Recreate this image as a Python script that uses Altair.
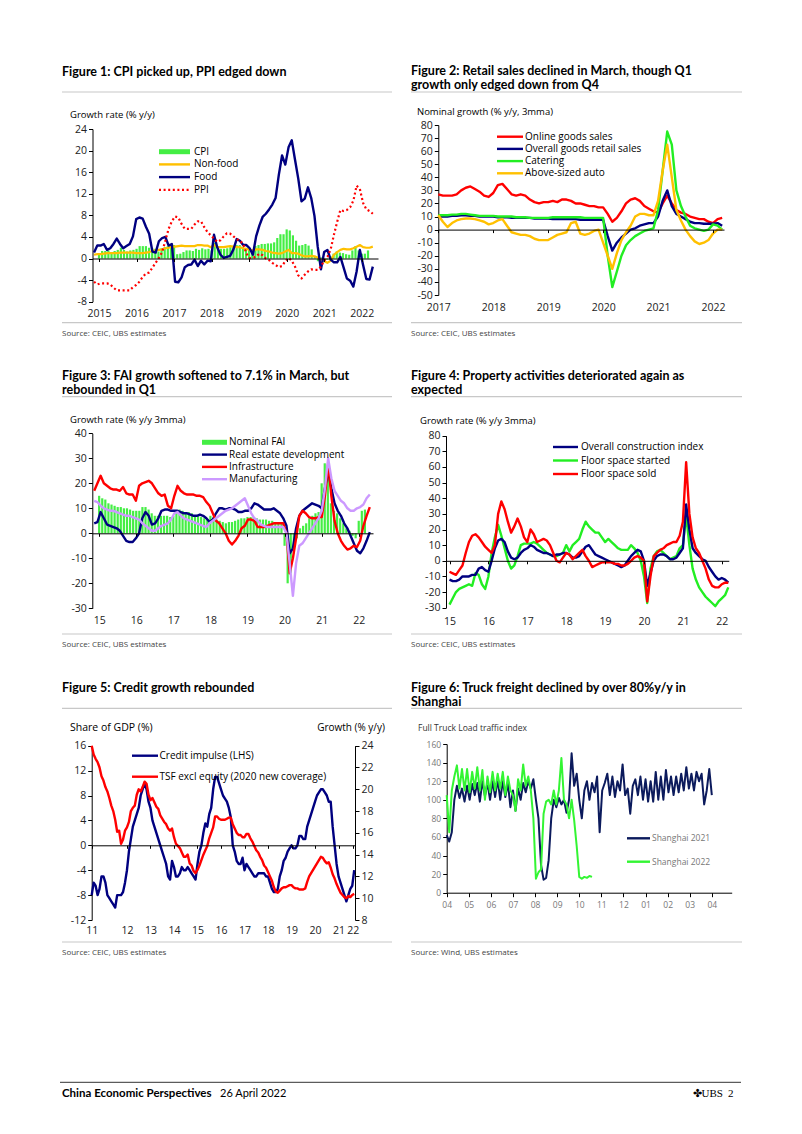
import altair as alt
import pandas as pd

W, H = 802, 1134
F = "Open Sans"
TF = "Lato"

NAVY = "#000080"
RED = "#FF0000"
LIME = "#22EE22"
BARG = "#44EE44"
ORANGE = "#FFC000"
LILAC = "#CC99FF"

# ---------------- data ----------------
# Figure 1 (monthly, Jan 2015 - Mar 2022)
f1_cpi = [0.8,1.4,1.4,1.5,1.2,1.4,1.6,2.0,1.6,1.3,1.5,1.6,
          1.8,2.3,2.3,2.3,2.0,1.9,1.8,1.3,1.9,2.1,2.3,2.1,
          2.5,0.8,0.9,1.2,1.5,1.5,1.4,1.8,1.6,1.9,1.7,1.8,
          1.5,2.9,2.1,1.8,1.8,1.9,2.1,2.3,2.5,2.5,2.2,1.9,
          1.7,1.5,2.3,2.5,2.7,2.7,2.8,2.8,3.0,3.8,4.5,4.5,
          5.4,5.2,4.3,3.3,2.4,2.5,2.7,2.4,1.7,0.5,-0.5,0.2,
          -0.3,-0.2,0.4,0.9,1.3,1.1,1.0,0.8,0.7,1.5,2.3,1.5,
          0.9,0.9,1.5]
f1_nonfood = [0.7,0.8,0.8,0.9,1.0,1.0,1.0,1.0,1.1,1.1,1.1,1.1,
              1.1,1.0,1.0,1.0,1.1,1.2,1.4,1.5,1.6,1.7,1.9,2.0,
              2.2,2.2,2.3,2.4,2.3,2.3,2.3,2.3,2.5,2.5,2.4,2.4,
              2.1,2.5,2.1,2.1,2.1,2.2,2.3,2.2,2.1,2.1,1.9,1.8,
              1.6,1.5,1.7,1.7,1.6,1.4,1.3,1.1,1.0,0.9,1.0,1.3,
              1.6,1.0,1.0,0.9,0.6,0.4,0.4,0.5,0.4,0.2,-0.3,-0.5,
              -0.8,-0.4,0.7,1.2,1.6,1.8,1.7,1.7,1.9,2.2,2.5,2.1,
              2.0,2.0,2.2]
f1_food = [1.1,2.4,2.4,2.7,1.6,1.9,2.7,3.7,2.7,1.9,2.3,2.7,
           4.1,7.3,7.6,7.4,5.9,4.6,1.3,1.1,3.2,3.8,4.0,2.4,
           2.7,-4.3,-4.4,-3.5,-1.6,-1.2,-1.1,-0.2,-1.4,-0.4,-1.1,-0.4,
           -0.5,4.4,2.1,0.7,0.1,0.3,0.5,1.7,3.6,3.3,2.5,2.5,
           1.9,0.7,4.1,6.1,7.7,8.3,9.1,10.0,11.2,15.5,19.1,17.4,
           20.6,21.9,18.3,14.8,10.6,11.1,13.2,11.2,7.9,2.2,-2.0,1.2,
           1.6,-0.2,-0.7,-0.7,0.3,-1.7,-3.7,-4.1,-5.2,-2.4,1.6,-1.2,
           -3.8,-3.9,-1.5]
f1_ppi = [-4.3,-4.8,-4.6,-4.6,-4.6,-4.8,-5.4,-5.9,-5.9,-5.9,-5.9,-5.9,
          -5.3,-4.9,-4.3,-3.4,-2.8,-2.6,-1.7,-0.8,0.1,1.2,3.3,5.5,
          6.9,7.8,7.6,6.4,5.5,5.5,5.5,6.3,6.9,6.9,5.8,4.9,
          4.3,3.7,3.1,3.4,4.1,4.7,4.6,4.1,3.6,3.3,2.7,0.9,
          0.1,0.1,0.4,0.9,0.6,0.0,-0.3,-0.8,-1.2,-1.6,-1.4,-0.5,
          0.1,-0.4,-1.5,-3.1,-3.7,-3.0,-2.4,-2.0,-2.1,-2.1,-1.5,-0.4,
          0.3,1.7,4.4,6.8,9.0,8.8,9.0,9.5,10.7,13.5,12.9,10.3,
          9.1,8.8,8.3]
f1_labels = ["CPI", "Non-food", "Food", "PPI"]
f1_ticks = [2015, 2016, 2017, 2018, 2019, 2020, 2021, 2022]

# Figure 2 (monthly, Jan 2017 - Mar 2022)
f2_online = [27,26,26,26,27,30,32,33,31,29,26,25,
             28,34,35,31,27,26,27,26,23,21,20,21,
             21,22,21,23,23,22,20,20,19,18,18,17,
             17,12,6,9,14,20,23,24,22,18,16,14,
             13,20,26,20,15,13,12,10,9,8,8,6,
             5,8,9]
f2_overall = [10,10,10,10.5,10.5,11,11,10.5,10.5,10,10,10,
              10,9.5,9.5,9.5,9,9,9,9,9,8.5,8.5,8.5,
              8.5,8,8,8,8,8,8,7.5,7.5,7.5,7.5,7.5,
              7.5,-5,-16,-10,-6,-3,0,1,3,4,5,5,
              10,22,30,18,12,10,8,6,5,5,4.5,4.5,
              4.5,5,3]
f2_catering = [11,11,11,11.5,11.5,12,12,11.5,11,10.5,10.5,10.5,
               10.5,10,10,10,10,9.5,9.5,9.5,9,9,9,9,
               9,9.5,9.5,9.5,9.5,9.5,9.5,9.5,9,9,9,9,
               9,-20,-44,-32,-20,-12,-8,-5,-3,-1,0,1,
               15,45,75,65,30,18,10,3,1,0,-1,0,
               4,3,0]
f2_auto = [11,6,2,5,7,8,8.5,8.5,8,7,6,4,
           5,7,8,3,-2,-3,-4,-4,-5,-7,-8,-8,
           -8,-6,-4,-3,-2,5,6,-3,-4,-3,-1,0,
           -10,-20,-30,-18,-8,-2,3,10,12,12,11,11,
           22,45,65,40,15,7,0,-5,-9,-11,-10,-8,
           -3,0,0]
f2_labels = ["Online goods sales", "Overall goods retail sales", "Catering", "Above-sized auto"]
f2_ticks = [2017, 2018, 2019, 2020, 2021, 2022]

# Figure 3 (monthly, Jan 2015 - Mar 2022)
f3_fai = [15,14,13.5,12,11.5,11,10.5,10.5,10,10,9.5,9,
          9,9,10.5,10.5,9.5,8,7,7,7,7,7,6.5,
          7,8.5,9.5,9,8.5,8.5,8,7,7,6.5,6,5.5,
          7,6,5.5,5,4.5,4,4.5,4.5,5,5.5,6,6,
          6.5,6.5,6.5,6,5.5,5.5,5.5,5,5,4.5,4.5,4.5,
          -5,-20,-16,-8,-2,2,3,4,6,7,8,8.5,
          20,28,25,12,9,8,6,4,2,1,-1,-2,
          5,9,9.5]
f3_realestate = [4,4.5,8.5,6,3.5,3,2.5,2,1,-1,-3,-3.5,
                 -3.5,-2,0,6,8.5,7,3.5,4,6,9,9.5,9.5,
                 9,9,9,8.5,8,8,7.5,7,7,7.5,7,6,
                 4.5,5.5,8,10,10,9.5,10,10,9.5,8.5,8.5,9,
                 9,10,12,11.5,10.5,9.5,9.5,9.5,10,9,8,6,
                 3,-8,-6,2,7,9,10,11,12,11.5,11,10,
                 18,25,18,12,9,7,4,2,-1,-4,-7,-8,
                 -6,-3,0.5]
f3_infra = [17,20,23,20,19,18,17.5,17.5,17,18.5,16,15.5,
            15.5,13,19,20,20.5,21,20,18,16,15,15.5,11,
            10,15,19,17,16,15.5,15.5,15.5,15,15,14.5,12.5,
            11,8,5,4,2,0,-3,-4.5,-3,-1,2,3,
            5.5,5.5,5,2.5,2.5,2.5,3,3.5,4,4,4,4,
            0,-16,-10,-2,7,9,8,6.5,6,6,6.5,6.5,
            15,28,15,5,0,-3,-5,-6.5,-6,-5,-5.5,-3,
            3,7,10.5]
f3_manuf = [13,12.5,11,10,9.5,9,9,8.5,8,7.5,7,7,
            6.5,6,5.5,4,3,2,1,1,2,3,3.5,4,
            5.5,8,8.5,7,6,5.5,5,4.5,4,3.5,3,2.5,
            4,5,6,7,8,9,9.5,10,11,12,13,14,
            11,8,6,5,3.5,3,2.5,2.5,2.5,2.5,2.5,2.5,
            0,-12,-25,-12,-5,-4,-2,0,2,4,6,9,
            18,30,22,17,15,13,12,10,9,9,10,10.5,
            11.5,14,15.5]
f3_labels = ["Nominal FAI", "Real estate development", "Infrastructure", "Manufacturing"]
f3_ticks = [2015, 2016, 2017, 2018, 2019, 2020, 2021, 2022]
f3_ticklabels = ["15", "16", "17", "18", "19", "20", "21", "22"]

# Figure 4 (monthly, Jan 2015 - Mar 2022)
f4_construction = [-12,-13,-13,-12,-10,-10,-10,-9,-9,-5,-4,-6,
                   -7,0,8,13,14,12,6,2,1,2,5,7,
                   8,10,9,7,6,5,5,4,3,4,4,5,
                   5,4,2,2,3,6,9,10,7,4,3,2,
                   1,0,-1,-2,-3,-4,-3,0,3,5,7,6,
                   0,-16,-8,0,3,4,4,3,1,1,2,5,
                   8,36,20,8,5,3,1,0,-4,-7,-10,-12,
                   -11,-12,-14]
f4_started = [-28,-24,-20,-18,-17,-16,-15,-16,-8,-9,-15,-18,
              -10,5,15,23,16,8,0,-5,-3,3,10,11,
              11,11,12,11,9,7,5,4,3,3,4,5,
              10,6,10,12,14,20,25,22,20,18,18,15,
              12,14,12,10,8,7,7,7,10,8,5,0,
              -10,-27,-5,3,6,7,5,3,1,2,3,8,
              10,29,10,-5,-12,-17,-20,-23,-25,-27,-29,-26,
              -24,-22,-17]
f4_sold = [-7,-8,-9,-6,-3,5,12,16,17,15,12,9,
           7,5,10,30,38,33,25,18,22,27,22,15,
           12,20,17,12,13,14,13,10,5,0,-1,2,
           5,4,1,3,5,7,3,0,-4,-3,-2,-1,
           -1,-1,-1,-2,-2,-3,-3,-2,0,2,3,2,
           0,-26,-10,3,5,7,8,10,11,12,12,16,
           25,63,30,15,8,5,0,-5,-12,-16,-17,-17,
           -15,-14,-14]
f4_labels = ["Overall construction index", "Floor space started", "Floor space sold"]

# Figure 5 (monthly, Jan 2011 - Mar 2022)
f5_impulse = [-8,-6,-6.5,-8,-7,-5,-5,-6,-8,-8.5,-9,-9.5,
              -10,-8,-8,-8,-7.5,-6,-4,-1,1,3,4,5,
              6,8,9,10,9,7,6,4,3,2,1,0,
              -1,-2,-3,-5,-5.5,-2.5,-3.5,-5,-5,-4.5,-3.5,-4,
              -4,-3.5,-4,-4.5,-5,-5.5,-3,-1,0,2,3.5,3,
              5,6,9,11,11,10,9,8,7.5,7,6,4.5,
              0,-1,-2.5,-3,-3,-2,-4,-3,-3.5,-4,-4.5,-5,
              -5,-4.5,-4.5,-4.5,-4.5,-5,-5,-6,-7,-7.5,-7.5,-7,
              -5,-4,-2.5,-2,-1,-0.5,0,-0.5,-0.5,0,1.5,1.5,
              1,1,3,4,5,6,7,8,8.5,9,9,8.5,
              8,7,7,3,0,-3,-5,-6,-7,-8,-9,-8,
              -7,-6.5,-4]
f5_tsf = [24,23.2,22.8,22.5,22,21.2,20.8,20.2,19.8,19.2,18.5,18,
          17.2,16.1,16.2,15,15.4,16.2,16.5,17,18,18.3,18.5,19.5,
          20,19.8,20.2,20.7,20.5,19.5,19,19.2,18.8,18.4,18.2,17.6,
          17.3,17,16.8,16.4,16.2,16.4,15.6,15,14.8,14.6,14.2,13.8,
          13.8,14,13.2,13,12.5,12.3,12.6,13,13.5,14,14.4,14.8,
          15.5,16,16.5,17.5,17.5,17.3,17.2,17.2,17.2,17.3,17.4,17.4,
          16.8,16.4,16,15.8,15.8,15.6,15.6,15.9,15.9,15.5,15.2,14.8,
          14.4,14.2,13.8,13.5,13,12.8,12.4,12,11.6,11,10.6,10.5,
          10.7,10.9,11,11,11.1,11.2,11.2,11,10.9,10.9,10.8,10.8,
          10.8,10.9,11.5,12,12.3,12.6,12.9,13.2,13.5,13.8,13.7,13.4,
          13.2,13.3,12.8,12.2,11.8,11.3,10.9,10.5,10.3,10.1,10.0,10.2,
          10.1,10.3,10.4]
f5_labels = ["Credit impulse (LHS)", "TSF excl equity (2020 new coverage)"]
f5_ticks = [2011, 2012.5, 2013.5, 2014.5, 2015.5, 2016.5, 2017.5, 2018.5, 2019.5, 2020.5, 2021.5, 2022.1]
f5_ticklabels = ["11", "12", "13", "14", "15", "16", "17", "18", "19", "20", "21", "22"]

# Figure 6 (twice-weekly readings, month index from April)
f6_2021 = [62,55,65,100,115,102,112,98,115,100,117,105,118,98,120,104,118,100,120,103,
           122,100,120,103,118,92,110,88,112,100,118,108,120,112,122,100,80,30,14,16,
           35,80,100,92,102,95,100,86,100,150,115,128,100,80,110,120,100,118,108,125,
           65,110,118,128,105,125,103,120,110,138,105,112,85,115,122,105,125,100,122,98,
           120,98,130,100,125,100,132,108,125,105,125,108,128,110,135,112,128,110,130,120,
           128,95,110,133,105]
f6_2022 = [105,65,110,125,137,112,133,110,133,108,130,112,135,110,132,100,125,108,130,110,
           128,112,130,105,125,110,105,88,122,110,138,115,125,110,80,15,22,25,85,98,
           100,95,110,95,110,145,100,95,80,100,78,50,17,15,17,16,18,17]
f6_labels = ["Shanghai 2021", "Shanghai 2022"]
f6_ticklabels = ["04", "05", "06", "07", "08", "09", "10", "11", "12", "01", "02", "03", "04"]
STEP6 = 12 / 104


# ---------------- helpers ----------------
def one():
    return alt.Data(values=[{"k": 0}])


def sc(dom, rng):
    return alt.Scale(domain=list(dom), range=list(rng), nice=False, zero=False)


def lookup_expr(ticks, labels):
    return ("[" + ",".join("'" + l + "'" for l in labels) + "][indexof(["
            + ",".join(str(t) for t in ticks) + "], datum.value)]")


def xaxis(yzero, ticks, labels, ylab, size=10.5, color="#222", tick=3):
    return alt.Axis(orient="bottom", offset=yzero - H, values=ticks,
                    labelExpr=lookup_expr(ticks, labels), title=None, grid=False,
                    tickSize=tick, labelPadding=ylab - yzero - tick, labelFontSize=size,
                    labelColor=color, labelFont=F, labelBaseline="middle",
                    domainColor="#000", tickColor="#000", domainWidth=1, tickWidth=1,
                    labelOverlap=False, labelFlush=False, zindex=1)


def yaxis(x0, ticks, orient="left", size=10.5, color="#222"):
    off = -x0 if orient == "left" else x0 - W
    return alt.Axis(orient=orient, offset=off, values=ticks, labelExpr="toString(datum.value)",
                    title=None, grid=False, tickSize=4, labelPadding=2, labelFontSize=size,
                    labelColor=color, labelFont=F, domainColor="#000", tickColor="#000",
                    domainWidth=1, tickWidth=1, labelOverlap=False, labelFlush=False)


def series(t, v, color, xs, ys, sw=2.0, dash=None, xax=None, yax=None, bar=None):
    df = pd.DataFrame({"t": t, "v": v, "z": [0.0] * len(v)})
    xenc = alt.X("t:Q", scale=xs, axis=xax)
    yenc = alt.Y("v:Q", scale=ys, axis=yax)
    if bar:
        return alt.Chart(df).mark_bar(size=bar, color=color).encode(x=xenc, y=yenc, y2="z:Q")
    kw = dict(color=color, strokeWidth=sw, strokeJoin="round")
    if dash:
        kw["strokeDash"] = dash
    return alt.Chart(df).mark_line(**kw).encode(x=xenc, y=yenc)


def txt(s, x, y, size=10, color="#000", weight="normal", align="left", font=F):
    return alt.Chart(one()).mark_text(text=s, fontSize=size, color=color, fontWeight=weight,
                                      align=align, baseline="middle", font=font).encode(
        x=alt.value(x), y=alt.value(y))


def hrule(x1, x2, y, color="#000", sw=1.0, dash=None):
    kw = dict(color=color, strokeWidth=sw)
    if dash:
        kw["strokeDash"] = dash
    return alt.Chart(one()).mark_rule(**kw).encode(x=alt.value(x1), x2=alt.value(x2), y=alt.value(y))


def months(start, n):
    return [start + i / 12 for i in range(n)]


L = []

# ---------------- page furniture ----------------
SEP = "#C8C8C8"
SRC = "#444444"
TS = 12.5
L += [
    txt("Figure 1: CPI picked up, PPI edged down", 62, 71.5, TS, weight="bold", font=TF),
    txt("Figure 2: Retail sales declined in March, though Q1", 411, 71, TS, weight="bold", font=TF),
    txt("growth only edged down from Q4", 411, 85.3, TS, weight="bold", font=TF),
    hrule(62, 392, 92, SEP, 1.2), hrule(411, 742, 92, SEP, 1.2),
    hrule(62, 392, 322.7, SEP, 1.2), hrule(411, 742, 322.7, SEP, 1.2),
    txt("Source: CEIC, UBS estimates", 62, 334, 8, SRC),
    txt("Source: CEIC, UBS estimates", 411, 334, 8, SRC),

    txt("Figure 3: FAI growth softened to 7.1% in March, but", 62, 375.5, TS, weight="bold", font=TF),
    txt("rebounded in Q1", 62, 389.8, TS, weight="bold", font=TF),
    txt("Figure 4: Property activities deteriorated again as", 411, 375.5, TS, weight="bold", font=TF),
    txt("expected", 411, 389.8, TS, weight="bold", font=TF),
    hrule(62, 392, 396.6, SEP, 1.2), hrule(411, 742, 396.6, SEP, 1.2),
    hrule(62, 392, 634, SEP, 1.2), hrule(411, 742, 634, SEP, 1.2),
    txt("Source: CEIC, UBS estimates", 62, 645, 8, SRC),
    txt("Source: CEIC, UBS estimates", 411, 645, 8, SRC),

    txt("Figure 5: Credit growth rebounded", 62, 687.7, TS, weight="bold", font=TF),
    txt("Figure 6: Truck freight declined by over 80%y/y in", 411, 687.5, TS, weight="bold", font=TF),
    txt("Shanghai", 411, 701.8, TS, weight="bold", font=TF),
    hrule(62, 392, 708.3, SEP, 1.2), hrule(411, 742, 708.3, SEP, 1.2),
    hrule(62, 392, 942, SEP, 1.2), hrule(411, 742, 942, SEP, 1.2),
    txt("Source: CEIC, UBS estimates", 62, 953, 8, SRC),
    txt("Source: Wind, UBS estimates", 411, 953, 8, SRC),

    hrule(60, 741, 1082.3, "#333333", 1.0),
    txt("China Economic Perspectives", 62, 1093.5, 11.5, weight="bold", font=TF),
    txt("26 April 2022", 220, 1093.5, 11, font=TF),
    txt("\u2724UBS", 723, 1093.5, 11, align="right", font="Liberation Serif"),
    txt("2", 733.5, 1093.5, 11, align="right", font="Liberation Serif"),
]

# ---------------- Figure 1 ----------------
t1 = months(2015, len(f1_cpi))
x1 = sc([2014.96, 2022.3], [92.5, 378])
y1 = sc([-8, 24], [301.7, 129])
L += [
    series(t1, f1_cpi, BARG, x1, y1, bar=2.2,
           xax=xaxis(258.5, f1_ticks, [str(v) for v in f1_ticks], 313),
           yax=yaxis(92.5, list(range(-8, 25, 4)))),
    series(t1, f1_nonfood, ORANGE, x1, y1, 2.2),
    series(t1, f1_food, NAVY, x1, y1, 2.4),
    series(t1, f1_ppi, RED, x1, y1, 2.2, dash=[2, 2.6]),
    txt("Growth rate (% y/y)", 70, 115, 9.5),
]
for i, (lab, col) in enumerate(zip(f1_labels, [BARG, ORANGE, NAVY, RED])):
    yy = 151.7 + i * 12.7
    if i == 0:
        L.append(hrule(159, 190, yy, col, 5))
    elif i == 3:
        L.append(hrule(159, 190, yy, col, 2.2, dash=[2, 2.6]))
    else:
        L.append(hrule(159, 190, yy, col, 2.4))
    L.append(txt(lab, 194, yy, 10))

# ---------------- Figure 2 ----------------
t2 = months(2017, len(f2_online))
x2 = sc([2017.0, 2022.2], [438.3, 724])
y2 = sc([-50, 80], [295, 125])
L += [
    series(t2, f2_online, RED, x2, y2, 2.4,
           xax=xaxis(229.6, f2_ticks, [str(v) for v in f2_ticks], 307.5),
           yax=yaxis(438.3, list(range(-50, 81, 10)))),
    series(t2, f2_overall, NAVY, x2, y2, 2.4),
    series(t2, f2_catering, LIME, x2, y2, 2.4),
    series(t2, f2_auto, ORANGE, x2, y2, 2.4),
    txt("Nominal growth (% y/y, 3mma)", 417, 112, 9.5),
]
for i, (lab, col) in enumerate(zip(f2_labels, [RED, NAVY, LIME, ORANGE])):
    yy = 136.7 + i * 12.2
    L.append(hrule(497, 523, yy, col, 2.4))
    L.append(txt(lab, 525, yy, 10))

# ---------------- Figure 3 ----------------
t3 = months(2015, len(f3_fai))
x3 = sc([2014.95, 2022.25], [92.3, 373])
y3 = sc([-30, 40], [608.3, 433.3])
L += [
    series(t3, f3_fai, BARG, x3, y3, bar=2.2,
           xax=xaxis(533.3, f3_ticks, f3_ticklabels, 620),
           yax=yaxis(92.3, list(range(-30, 41, 10)))),
    series(t3, f3_realestate, NAVY, x3, y3, 2.4),
    series(t3, f3_infra, RED, x3, y3, 2.4),
    series(t3, f3_manuf, LILAC, x3, y3, 2.4),
    txt("Growth rate (% y/y 3mma)", 70, 420, 9.5),
]
for i, (lab, col) in enumerate(zip(f3_labels, [BARG, NAVY, RED, LILAC])):
    yy = 442.3 + i * 12.3
    L.append(hrule(202, 227, yy, col, 5 if i == 0 else 2.4))
    L.append(txt(lab, 229, yy, 10))

# ---------------- Figure 4 ----------------
t4 = months(2015, len(f4_construction))
x4 = sc([2014.91, 2022.18], [446, 728.8])
y4 = sc([-30, 80], [607.7, 435.7])
L += [
    series(t4, f4_started, LIME, x4, y4, 2.4,
           xax=xaxis(560.8, f3_ticks, f3_ticklabels, 621.7),
           yax=yaxis(446, list(range(-30, 81, 10)))),
    series(t4, f4_construction, NAVY, x4, y4, 2.4),
    series(t4, f4_sold, RED, x4, y4, 2.4),
    txt("Growth rate (% y/y 3mma)", 420, 421, 9.5),
]
for i, (lab, col) in enumerate(zip(f4_labels, [NAVY, LIME, RED])):
    yy = 447 + i * 13.5
    L.append(hrule(553, 578, yy, col, 2.4))
    L.append(txt(lab, 581, yy, 10))

# ---------------- Figure 5 ----------------
t5 = months(2011, len(f5_impulse))
x5 = sc([2011.0, 2022.2], [91.7, 355])
y5l = sc([-12, 16], [920, 745.7])
y5r = sc([8, 24], [920, 745.7])
L += [
    series(t5, f5_impulse, NAVY, x5, y5l, 2.4,
           xax=xaxis(845.3, f5_ticks, f5_ticklabels, 930),
           yax=yaxis(91.7, list(range(-12, 17, 4)))),
    series(t5, f5_tsf, RED, x5, y5r, 2.4,
           yax=yaxis(355, list(range(8, 25, 2)), orient="right")),
    txt("Share of GDP (%)", 70, 728, 10.5),
    txt("Growth (% y/y)", 385, 728, 10, align="right"),
]
for i, (lab, col) in enumerate(zip(f5_labels, [NAVY, RED])):
    yy = 755.7 + i * 21
    L.append(hrule(132, 158, yy, col, 2.4))
    L.append(txt(lab, 159.5, yy, 10))

# ---------------- Figure 6 ----------------
G6 = "#33F533"
B6 = "#0B1A5C"
t6a = [i * STEP6 for i in range(len(f6_2021))]
t6b = [i * STEP6 for i in range(len(f6_2022))]
x6 = sc([0, 12.9], [446.7, 731.7])
y6 = sc([0, 160], [892.7, 744])
L += [
    series(t6a, f6_2021, B6, x6, y6, 2.0,
           xax=xaxis(892.7, list(range(13)), f6_ticklabels, 904, size=8.5, color="#777", tick=4),
           yax=yaxis(446.7, list(range(0, 161, 20)), size=8.5, color="#777")),
    series(t6b, f6_2022, G6, x6, y6, 2.0),
    txt("Full Truck Load traffic index", 418, 728, 8.5, "#333"),
]
for i, (lab, col) in enumerate(zip(f6_labels, [B6, G6])):
    yy = 838.3 + i * 23.4
    L.append(hrule(627, 650, yy, col, 2.4))
    L.append(txt(lab, 652, yy, 8.5, "#777"))

chart = alt.layer(*L).resolve_scale(x="independent", y="independent").properties(
    width=W, height=H, autosize=alt.AutoSizeParams(type="none"), padding=0
).configure_view(strokeWidth=0)

chart.save("out.html", embed_options={"renderer": "svg", "actions": False})
